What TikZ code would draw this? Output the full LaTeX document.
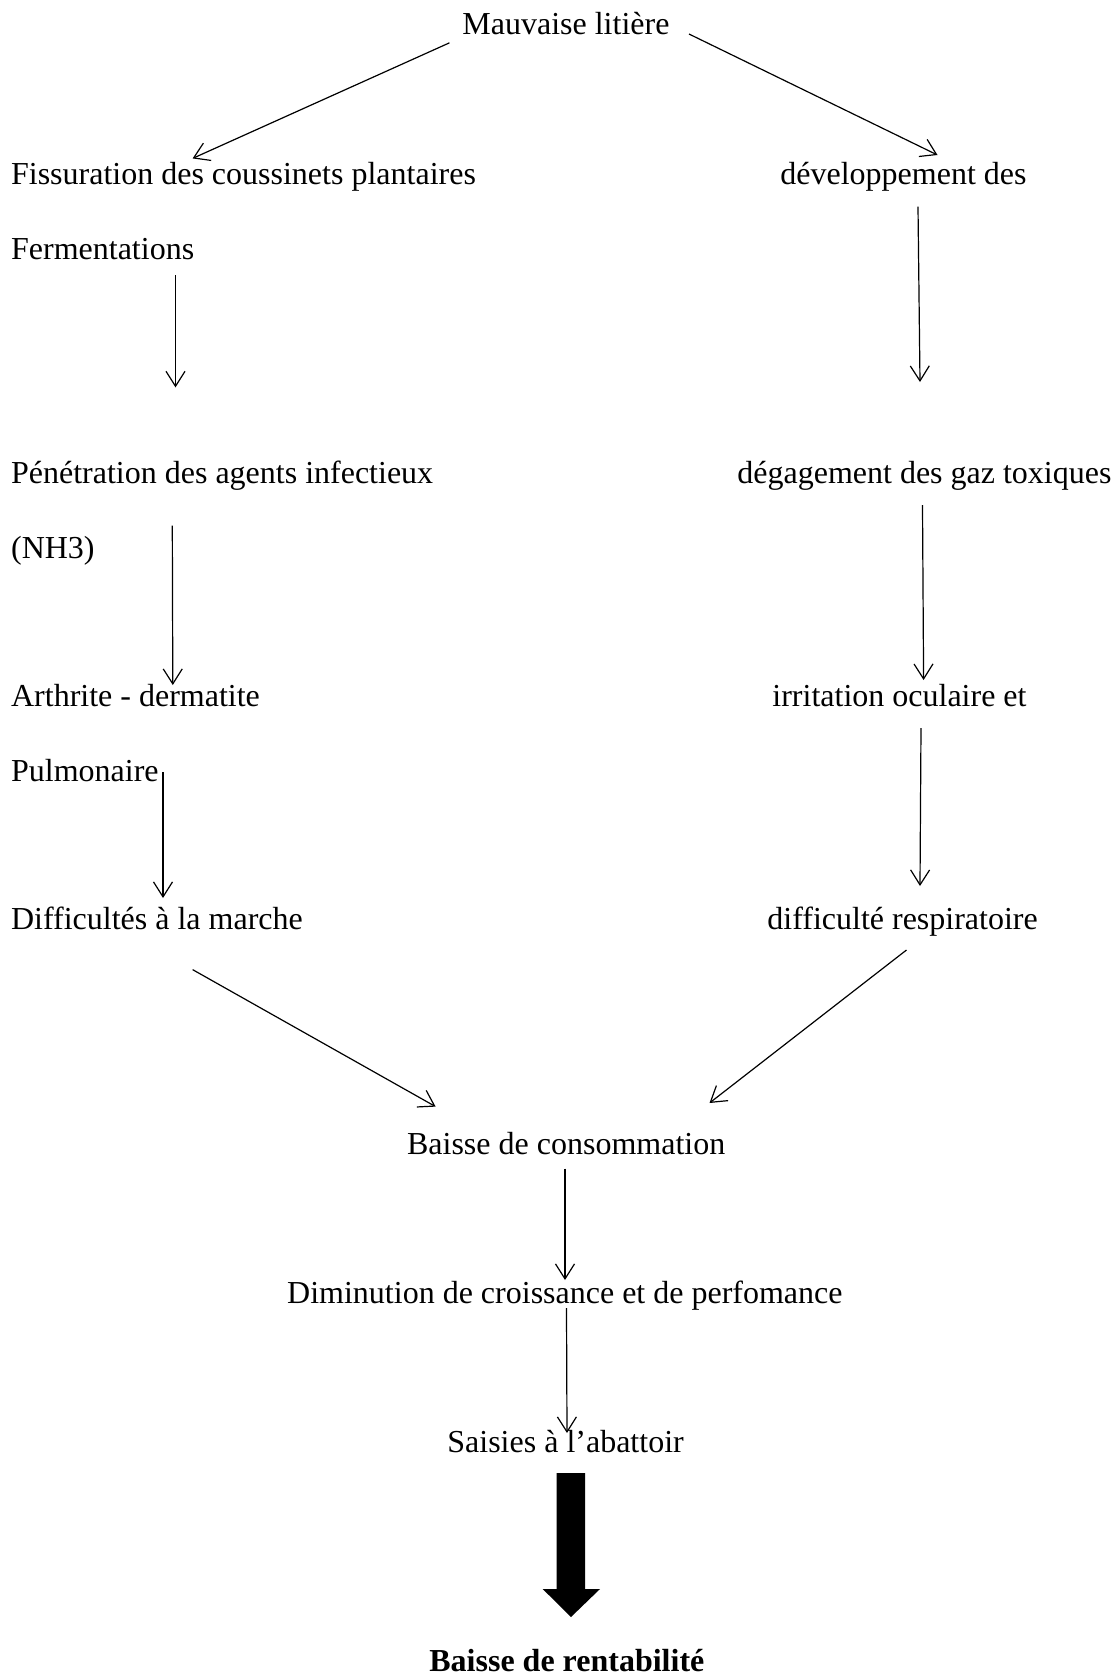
\documentclass[tikz,border=0pt]{standalone}
\usepackage{fontspec}
\setmainfont{Liberation Serif}
\usetikzlibrary{arrows.meta}

\tikzset{
	lbl/.style={inner sep=0pt, anchor=base west, font=\fontsize{16}{19}\selectfont},
	arr/.style={-{Straight Barb[length=7.5pt,width=9.5pt]}, line width=0.6pt}
}

\begin{document}
\begin{tikzpicture}[x=0.5pt,y=-0.5pt]
			\useasboundingbox (0,0) rectangle (1113,1678);
			% texts
			\node[lbl] (litiere) at (462,34) {Mauvaise litière};
			\node[lbl] (fissur) at (10.7,184) {Fissuration des coussinets plantaires};
			\node[lbl] (devel) at (780,184) {développement des};
			\node[lbl] (ferment) at (10.7,259) {Fermentations};
			\node[lbl] (penetr) at (10.7,483) {Pénétration des agents infectieux};
			\node[lbl] (degag) at (737,483) {dégagement des gaz toxiques};
			\node[lbl] (nh) at (10.7,558) {(NH3)};
			\node[lbl] (arthr) at (10.7,706) {Arthrite - dermatite};
			\node[lbl] (irrit) at (772,706) {irritation oculaire et};
			\node[lbl] (pulmo) at (10.7,781) {Pulmonaire};
			\node[lbl] (marche) at (10.7,929) {Difficultés à la marche};
			\node[lbl] (respir) at (767,929) {difficulté respiratoire};
			\node[lbl] (consom) at (406.7,1154) {Baisse de consommation};
			\node[lbl] (croiss) at (286.8,1303) {Diminution de croissance et de perfomance};
			\node[lbl] (saisie) at (447,1452) {Saisies à l’abattoir};
			\node[lbl, font=\fontsize{16}{19}\selectfont\bfseries] (rentab) at (429,1671) {Baisse de rentabilité};
			% arrow ends
			\coordinate (a1s) at (449.5,42.8);  \coordinate (a1e) at (192.6,158.4);
			\coordinate (a2s) at (689,34);      \coordinate (a2e) at (937.5,155);
			\coordinate (a3s) at (175.5,275);   \coordinate (a3e) at (175.5,387.4);
			\coordinate (a4s) at (918,206.5);   \coordinate (a4e) at (920,382);
			\coordinate (a5s) at (172.3,525.5); \coordinate (a5e) at (172.8,685);
			\coordinate (a6s) at (922.5,505);   \coordinate (a6e) at (923.6,680);
			\coordinate (a7s) at (163,772);     \coordinate (a7e) at (163,898);
			\coordinate (a8s) at (921,728);     \coordinate (a8e) at (920,886);
			\coordinate (a9s) at (192.6,969.6); \coordinate (a9e) at (435.6,1106.6);
			\coordinate (a10s) at (906.5,950);  \coordinate (a10e) at (709.5,1103);
			\coordinate (a11s) at (565,1168.6); \coordinate (a11e) at (565,1280);
			\coordinate (a12s) at (566.5,1308); \coordinate (a12e) at (567,1433);
			\path[arr]
			(a1s) edge (a1e)
			(a2s) edge (a2e)
			(a3s) edge (a3e)
			(a4s) edge (a4e)
			(a5s) edge (a5e)
			(a6s) edge (a6e)
			(a7s) edge (a7e)
			(a8s) edge (a8e)
			(a9s) edge (a9e)
			(a10s) edge (a10e)
			(a11s) edge (a11e)
			(a12s) edge (a12e);
			% big arrow
			\coordinate (bigtip) at (571,1617);
			\fill (556.7,1473) -- (585,1473) -- (585,1589) -- (600,1589) -- (bigtip)
			  -- (542.7,1589) -- (556.7,1589) -- cycle;
		\end{tikzpicture}
\end{document}
